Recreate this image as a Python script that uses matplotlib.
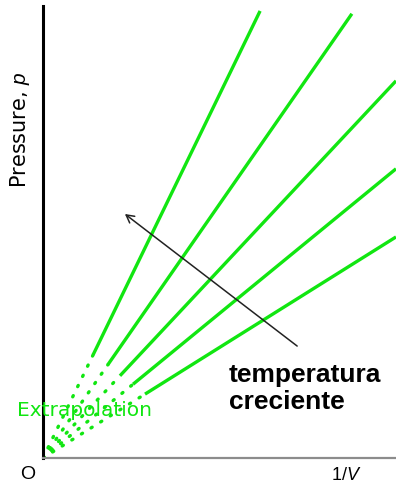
import matplotlib
matplotlib.use("Agg")
import matplotlib.pyplot as plt
import numpy as np

plt.rcParams["mathtext.fontset"] = "custom"
plt.rcParams["mathtext.rm"] = "Liberation Sans"
plt.rcParams["mathtext.it"] = "Liberation Sans:italic"

# isotherms p vs 1/V, steepest (lowest T) first
x_end = [6.15, 8.75, 10.0, 10.0, 10.0]
y_end = [12.66, 12.58, 10.68, 8.19, 6.26]
x_solid = [1.42, 1.84, 2.18, 2.55, 2.89]   # where measured data starts

arrow_tail = (7.2, 3.17)
arrow_head = (2.32, 6.91)

GREEN = "#11e611"

fig = plt.figure(figsize=(3.96, 4.85), dpi=100)
ax = fig.add_axes([43 / 396, 26 / 485, 353 / 396, 452 / 485])
ax.set_xlim(0, 10)
ax.set_ylim(0, 12.8)

for xe, ye, xs in zip(x_end, y_end, x_solid):
    k = ye / xe
    # dotted extrapolation down to the origin
    ax.plot([0, xs], [0, k * xs], color=GREEN, lw=2.4,
            linestyle=(0, (0.4, 3)), dash_capstyle="round", zorder=2)
    ax.plot([xs, xe], [k * xs, ye], color=GREEN, lw=2.4,
            solid_capstyle="butt", zorder=2)

ax.annotate("", xy=arrow_head, xytext=arrow_tail,
            arrowprops=dict(arrowstyle="->,head_length=0.55,head_width=0.3",
                            color="#222222", lw=1.1, shrinkA=0, shrinkB=0),
            zorder=3)

ax.text(5.27, 2.73, "temperatura\ncreciente", ha="left", va="top",
        fontsize=19, fontweight="bold", family="Liberation Sans",
        color="black", zorder=4,
        bbox=dict(facecolor="white", edgecolor="none", pad=6))

ax.text(-0.74, 1.36, "Extrapolation", ha="left", va="center",
        fontsize=14.5, family="DejaVu Sans", color=GREEN, zorder=5)

ax.text(-0.65, 9.32, "Pressure, $p$", ha="center", va="center",
        rotation=90, fontsize=15, family="DejaVu Sans", color="black")

ax.text(-0.42, -0.44, "O", ha="center", va="center",
        fontsize=14, family="Liberation Sans", color="black")
ax.text(8.58, -0.24, "1/$V$", ha="center", va="top",
        fontsize=13, family="Liberation Sans", color="black")

for s in ("top", "right"):
    ax.spines[s].set_visible(False)
ax.spines["left"].set_linewidth(2.2)
ax.spines["left"].set_color("black")
ax.spines["bottom"].set_linewidth(1.6)
ax.spines["bottom"].set_color("#8c8c8c")
ax.set_xticks([])
ax.set_yticks([])

fig.savefig("out.png", dpi=100)
